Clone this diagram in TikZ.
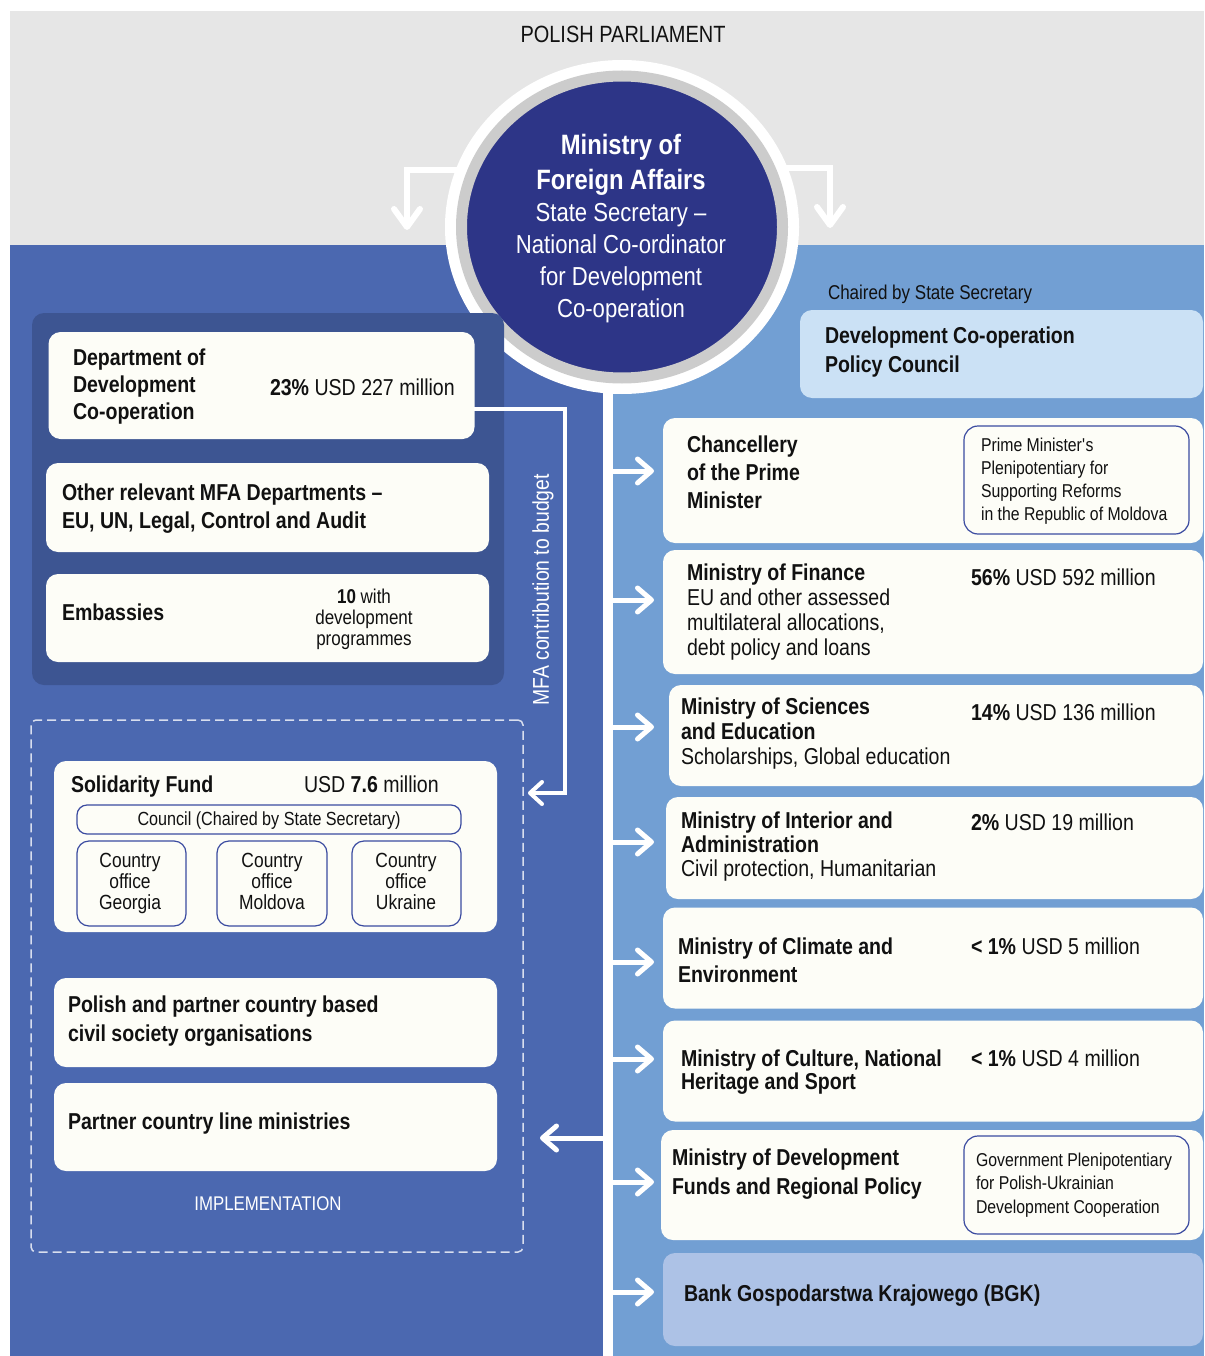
\documentclass[tikz,border=0pt]{standalone}
\usepackage{fontspec}
\setmainfont{Liberation Sans}[FakeStretch=0.85]
\usetikzlibrary{arrows.meta,shapes.geometric}
\definecolor{gband}{HTML}{E6E6E6}
\definecolor{lpanel}{HTML}{4B68B0}
\definecolor{dpanel}{HTML}{3D5592}
\definecolor{rpanel}{HTML}{729FD3}
\definecolor{mfablue}{HTML}{2D3587}
\definecolor{ringgray}{HTML}{CCCCCC}
\definecolor{offwhite}{HTML}{FDFDF7}
\definecolor{councilblue}{HTML}{CBE1F5}
\definecolor{bgkblue}{HTML}{ADC2E6}
\definecolor{outl}{HTML}{3B4BA0}
\definecolor{ink}{HTML}{111111}
\definecolor{dashcol}{HTML}{D8DEEE}
\newcommand\fsz[2]{\fontsize{#1}{#2}\selectfont}
\newcommand\Lft[1]{\vtop{\halign{##\hfil\cr#1\crcr}}}
\newcommand\Ctr[1]{\vtop{\halign{\hfil##\hfil\cr#1\crcr}}}
\tikzset{
  txt/.style={inner sep=0pt, outer sep=0pt, anchor=base west, text=ink},
  bx/.style={inner sep=0pt, outer sep=0pt, anchor=north west, rounded corners=12pt, fill=offwhite},
  obx/.style={inner sep=0pt, outer sep=0pt, anchor=north west, draw=outl, line width=1.2pt, fill=offwhite},
  implbox/.style={inner sep=0pt, outer sep=0pt, anchor=north west, draw=dashcol, line width=1.5pt, dash pattern=on 9pt off 5pt, rounded corners=5pt},
  sidearr/.style={draw=white, line width=5pt, -{Straight Barb[length=14pt, width=24pt, line width=5pt, round]}},
  toparr/.style={draw=white, line width=6pt, -{Straight Barb[length=18pt, width=26pt, line width=6pt, round]}},
  contrib/.style={draw=white, line width=4pt, -{Straight Barb[length=12pt, width=22pt, line width=4pt, round]}},
}
\begin{document}
\begin{tikzpicture}[x=1pt, y=-1pt]
\useasboundingbox (0,0) rectangle (1204,1356);
\fill[white] (0,0) rectangle (1204,1356);
% background areas
\fill[gband] (10,11) rectangle (1204,245);
\fill[lpanel] (10,245) rectangle (603,1356);
\fill[rpanel] (613,245) rectangle (1204,1356);

% spine
\coordinate (spine) at (608,380);
\coordinate (sbot) at (608,1356);
\draw[white, line width=10pt] (spine) -- (sbot);

% top arrows
\coordinate (lstart) at (462,170);
\coordinate (ltip) at (407,230);
\coordinate (rstart) at (782,168);
\coordinate (rtip) at (830,228);
\draw[toparr] (lstart) -| (ltip);
\draw[toparr] (rstart) -| (rtip);

% circle
\node[ellipse, fill=white, minimum width=354pt, minimum height=334pt, inner sep=0pt] (ring) at (622,227) {};
\node[ellipse, fill=mfablue, draw=ringgray, line width=11pt, minimum width=321pt, minimum height=302pt, inner sep=0pt] (mfa) at (622,227) {};

\node[txt, anchor=base, font=\fsz{23.5}{28}] (parl) at (623,43) {POLISH PARLIAMENT};
\node[txt, anchor=base, text=white, font=\fsz{28}{35}\bfseries] (mfat) at (621,155) {\Ctr{Ministry of\cr Foreign Affairs}};
\node[txt, anchor=base, text=white, font=\fsz{26}{32}] (mfas) at (621,222) {\Ctr{State Secretary –\cr National Co-ordinator\cr for Development\cr Co-operation}};

% left: MFA departments
\node[inner sep=0pt, outer sep=0pt, anchor=north west, rounded corners=12pt, fill=dpanel, minimum width=472pt, minimum height=372pt] (mfagroup) at (32,313) {};
\node[bx, minimum width=426pt, minimum height=107pt] (dept) at (48.5,332) {};
\node[bx, minimum width=443pt, minimum height=89pt] (other) at (46,463) {};
\node[bx, minimum width=443pt, minimum height=88pt] (emb) at (46,574) {};

\node[txt, font=\fsz{23}{27}\bfseries] (deptt) at (73,365) {\Lft{Department of\cr Development\cr Co-operation}};
\node[txt, font=\fsz{23}{27}] (depta) at (270,395) {{\bfseries 23\%} USD 227 million};
\node[txt, font=\fsz{23}{28}\bfseries] (othert) at (62,500) {\Lft{Other relevant MFA Departments –\cr EU, UN, Legal, Control and Audit}};
\node[txt, font=\fsz{23}{28}\bfseries] (embt) at (62,620) {Embassies};
\node[txt, anchor=base, font=\fsz{20}{21}] (emba) at (364,603) {\Ctr{{\bfseries 10} with\cr development\cr programmes}};

% contribution line
\coordinate (cstart) at (474,409);
\coordinate (ccorner) at (565,793);
\coordinate (ctip) at (528,793);
\draw[contrib] (cstart) -| (ccorner) -- (ctip);
\node[txt, anchor=center, rotate=90, text=white, font=\fsz{22.8}{26}] (contribt) at (543,590) {MFA contribution to budget};

% implementation area
\node[implbox, minimum width=492pt, minimum height=532pt] (impl) at (31,720) {};
\node[bx, minimum width=443pt, minimum height=171pt] (sol) at (54,761) {};
\node[txt, font=\fsz{23}{27}\bfseries] (solt) at (71,792) {Solidarity Fund};
\node[txt, font=\fsz{23}{27}] (sola) at (304,792) {USD {\bfseries 7.6} million};
\node[obx, rounded corners=10pt, minimum width=384pt, minimum height=29pt] (council) at (77,805) {};
\node[txt, anchor=base, font=\fsz{19}{22}] (councilt) at (269,825.5) {Council (Chaired by State Secretary)};
\node[obx, rounded corners=12pt, minimum width=109pt, minimum height=85pt] (cog) at (77,841) {};
\node[obx, rounded corners=12pt, minimum width=110pt, minimum height=85pt] (com) at (217,841) {};
\node[obx, rounded corners=12pt, minimum width=109pt, minimum height=85pt] (cou) at (352,841) {};
\node[txt, anchor=base, font=\fsz{20.5}{21}] (cogt) at (130,867) {\Ctr{Country\cr office\cr Georgia}};
\node[txt, anchor=base, font=\fsz{20.5}{21}] (comt) at (272,867) {\Ctr{Country\cr office\cr Moldova}};
\node[txt, anchor=base, font=\fsz{20.5}{21}] (cout) at (406,867) {\Ctr{Country\cr office\cr Ukraine}};

\node[bx, minimum width=443pt, minimum height=89pt] (cso) at (54,978) {};
\node[txt, font=\fsz{23}{29}\bfseries] (csot) at (68,1012) {\Lft{Polish and partner country based\cr civil society organisations}};
\node[bx, minimum width=443pt, minimum height=88pt] (line) at (54,1083) {};
\node[txt, font=\fsz{23}{29}\bfseries] (linet) at (68,1129) {Partner country line ministries};
\node[txt, anchor=base, text=white, font=\fsz{19.8}{22}] (implt) at (268,1210) {IMPLEMENTATION};

\coordinate (ltip2) at (540,1138);
\draw[sidearr] (spine |- ltip2) -- (ltip2);

% right side
\node[txt, font=\fsz{20}{24}] (chaired) at (828,299) {Chaired by State Secretary};
\node[bx, fill=councilblue, minimum width=403pt, minimum height=88pt] (policy) at (800,310) {};
\node[txt, font=\fsz{23}{29}\bfseries] (policyt) at (825,343) {\Lft{Development Co-operation\cr Policy Council}};

\node[bx, minimum width=540pt, minimum height=125pt] (chan) at (663,418) {};
\node[obx, rounded corners=14pt, minimum width=225pt, minimum height=108pt] (pm) at (964,426) {};
\node[txt, font=\fsz{23}{28}\bfseries] (chant) at (687,452) {\Lft{Chancellery\cr of the Prime\cr Minister}};
\node[txt, font=\fsz{18.6}{23.3}] (pmt) at (981,451) {\Lft{Prime Minister\textquotesingle s\cr Plenipotentiary for\cr Supporting Reforms\cr in the Republic of Moldova}};

\node[bx, minimum width=540pt, minimum height=124pt] (fin) at (663,550) {};
\node[txt, font=\fsz{23}{25}] (fint) at (687,580) {\Lft{{\bfseries Ministry of Finance}\cr EU and other assessed\cr multilateral allocations,\cr debt policy and loans}};
\node[txt, font=\fsz{23}{25}] (fina) at (971,585) {{\bfseries 56\%} USD 592 million};

\node[bx, minimum width=534pt, minimum height=101pt] (sci) at (669,685) {};
\node[txt, font=\fsz{23}{25}] (scit) at (681,714) {\Lft{{\bfseries Ministry of Sciences}\cr {\bfseries and Education}\cr Scholarships, Global education}};
\node[txt, font=\fsz{23}{25}] (scia) at (971,720) {{\bfseries 14\%} USD 136 million};

\node[bx, minimum width=537pt, minimum height=102pt] (int) at (666,797) {};
\node[txt, font=\fsz{23}{24}] (intt) at (681,828) {\Lft{{\bfseries Ministry of Interior and}\cr {\bfseries Administration}\cr Civil protection, Humanitarian}};
\node[txt, font=\fsz{23}{25}] (inta) at (971,830) {{\bfseries 2\%} USD 19 million};

\node[bx, minimum width=540pt, minimum height=101pt] (cli) at (663,907.5) {};
\node[txt, font=\fsz{23}{28}\bfseries] (clit) at (678,954) {\Lft{Ministry of Climate and\cr Environment}};
\node[txt, font=\fsz{23}{25}] (clia) at (971,954) {{\bfseries < 1\%} USD 5 million};

\node[bx, minimum width=540pt, minimum height=101pt] (cul) at (663,1020.5) {};
\node[txt, font=\fsz{23}{23.5}\bfseries] (cult) at (681,1066) {\Lft{Ministry of Culture, National\cr Heritage and Sport}};
\node[txt, font=\fsz{23}{25}] (cula) at (971,1066) {{\bfseries < 1\%} USD 4 million};

\node[bx, minimum width=542pt, minimum height=110pt] (dev) at (661,1130) {};
\node[obx, rounded corners=14pt, minimum width=225pt, minimum height=98pt] (gov) at (964,1136) {};
\node[txt, font=\fsz{23}{29}\bfseries] (devt) at (672,1165) {\Lft{Ministry of Development\cr Funds and Regional Policy}};
\node[txt, font=\fsz{18.6}{23.5}] (govt) at (976,1166) {\Lft{Government Plenipotentiary\cr for Polish-Ukrainian\cr Development Cooperation}};

\node[bx, fill=bgkblue, minimum width=540pt, minimum height=93pt] (bgk) at (663,1253) {};
\node[txt, font=\fsz{23}{28}\bfseries] (bgkt) at (684,1301.5) {Bank Gospodarstwa Krajowego (BGK)};

% right arrows
\coordinate (a1) at (654,471);
\coordinate (a2) at (654,600);
\coordinate (a3) at (654,727);
\coordinate (a4) at (654,842);
\coordinate (a5) at (654,962);
\coordinate (a6) at (654,1059);
\coordinate (a7) at (654,1182);
\coordinate (a8) at (654,1292);
\foreach \a in {a1,a2,a3,a4,a5,a6,a7,a8}{
  \draw[sidearr] (spine |- \a) -- (\a);
}
\end{tikzpicture}
\end{document}
